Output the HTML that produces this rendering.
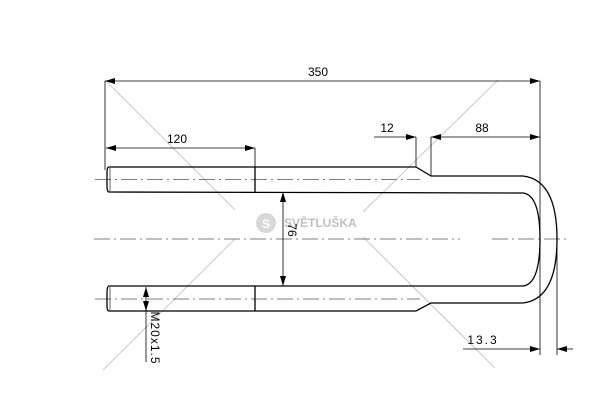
<!DOCTYPE html>
<html><head><style>html,body{margin:0;padding:0;background:#fff}svg{display:block}</style></head>
<body>
<svg width="600" height="419" viewBox="0 0 600 419" xmlns="http://www.w3.org/2000/svg" font-family="'Liberation Sans', sans-serif">
<defs>
<marker id="a" viewBox="0 0 10 6" refX="10" refY="3" markerWidth="10" markerHeight="6" orient="auto-start-reverse" markerUnits="userSpaceOnUse"><path d="M0,0 L10,3 L0,6 z" fill="#000"/></marker>
</defs>
<!-- watermark diagonals -->
<g stroke="#c8c8c8" stroke-width="1">
<line x1="105" y1="80" x2="235" y2="210"/>
<line x1="103" y1="370" x2="235" y2="239"/>
<line x1="498" y1="80" x2="363" y2="212"/>
<line x1="363" y1="237" x2="495" y2="368"/>
</g>
<!-- watermark -->
<circle cx="266" cy="223" r="10" fill="#d8d8d8"/>
<text x="266" y="228" font-size="12" fill="#fff" text-anchor="middle" font-weight="bold">S</text>
<text x="284" y="227" font-size="12" font-weight="bold" fill="#c0c0c0">SVĚTLUŠKA</text>
<!-- centerlines -->
<g stroke="#555" stroke-width="0.8" stroke-dasharray="16,4,2,4">
<line x1="95" y1="179.5" x2="420" y2="179.5"/>
<line x1="95" y1="299" x2="420" y2="299"/>
<line x1="94" y1="239" x2="460" y2="239"/>
<line x1="492" y1="239" x2="568" y2="239"/>
</g>
<!-- part -->
<g fill="none" stroke="#000" stroke-width="1.3">
<path d="M109,167 L416,167 L431,176 L523,176 Q557,180 557,239 Q557,299 523,303 L431,303 L416,311 L109,311 Q107,311 107,305 L107,293 Q107,286 109,286 L523,286 Q540,284 540,239 Q540,195 523,193 L109,192 Q107,192 107,186 L107,173 Q107,167 109,167 Z"/>
<line x1="255" y1="167" x2="255" y2="192"/>
<line x1="255" y1="286" x2="255" y2="311"/>
<line x1="110" y1="168" x2="110" y2="191" stroke-width="0.6"/>
<line x1="110" y1="287" x2="110" y2="310" stroke-width="0.6"/>
</g>
<!-- dimensions -->
<g stroke="#000" stroke-width="0.8" fill="none">
<line x1="105" y1="81" x2="105" y2="170"/>
<line x1="540" y1="81" x2="540" y2="355"/>
<line x1="557" y1="239" x2="557" y2="355"/>
<line x1="105" y1="81" x2="540" y2="81" marker-start="url(#a)" marker-end="url(#a)"/>
<line x1="106" y1="148" x2="255" y2="148" marker-start="url(#a)" marker-end="url(#a)"/>
<line x1="255" y1="148" x2="255" y2="167"/>
<line x1="416" y1="137" x2="416" y2="167"/>
<line x1="431" y1="137" x2="431" y2="176"/>
<line x1="374" y1="137" x2="416" y2="137" marker-end="url(#a)"/>
<line x1="431" y1="137" x2="540" y2="137" marker-start="url(#a)" marker-end="url(#a)"/>
<line x1="463" y1="349" x2="540" y2="349" marker-end="url(#a)"/>
<line x1="573" y1="349" x2="557" y2="349" marker-end="url(#a)"/>
<line x1="283" y1="192" x2="283" y2="286" marker-start="url(#a)" marker-end="url(#a)"/>
<line x1="146" y1="287" x2="146" y2="311" marker-start="url(#a)" marker-end="url(#a)"/>
<line x1="146" y1="311" x2="146" y2="362"/>
</g>
<g font-size="12" fill="#000">
<text x="318" y="76" text-anchor="middle">350</text>
<text x="177" y="143" text-anchor="middle">120</text>
<text x="387" y="132" text-anchor="middle">12</text>
<text x="482" y="132" text-anchor="middle">88</text>
<text x="483" y="344" text-anchor="middle" letter-spacing="2">13.3</text>
<text transform="translate(288,230) rotate(90)" text-anchor="middle">76</text>
<text transform="translate(151,338) rotate(90)" text-anchor="middle" letter-spacing="1">M20x1.5</text>
</g>
</svg>
</body></html>
